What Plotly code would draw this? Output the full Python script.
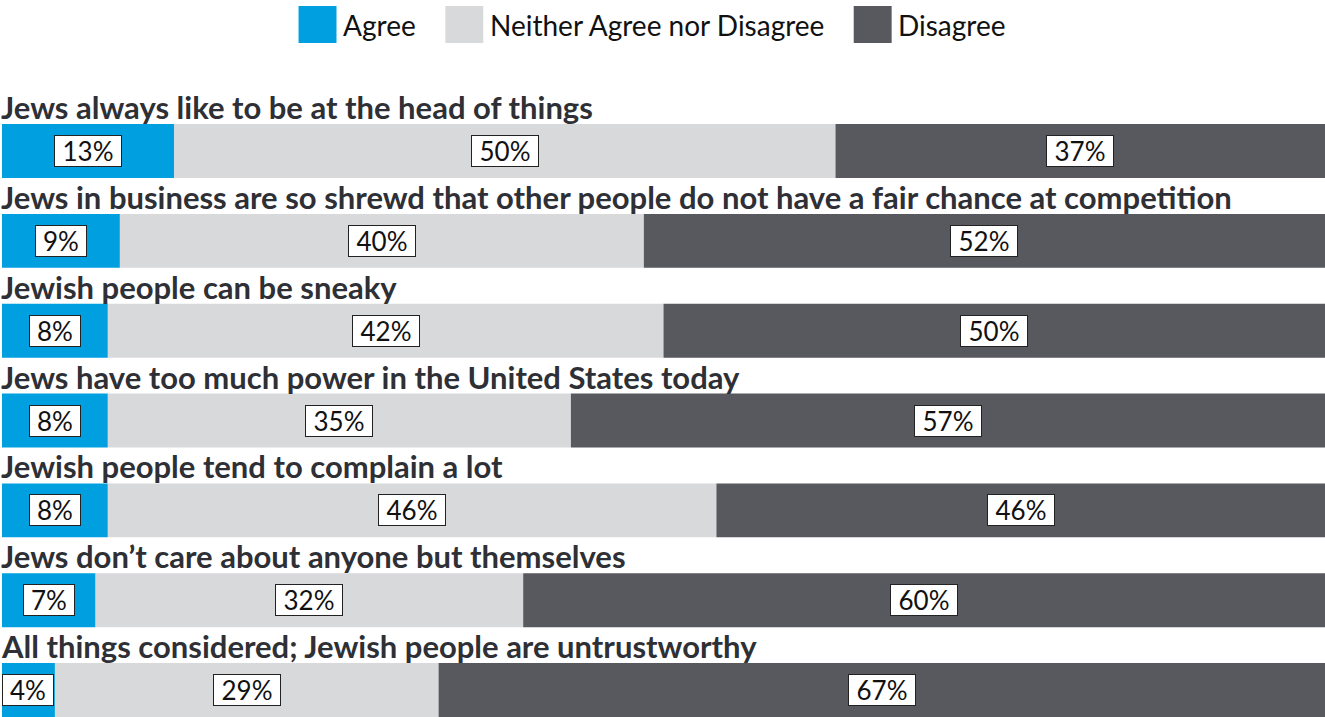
import plotly.graph_objects as go

categories = [
    "Jews always like to be at the head of things",
    "Jews in business are so shrewd that other people do not have a fair chance at competition",
    "Jewish people can be sneaky",
    "Jews have too much power in the United States today",
    "Jewish people tend to complain a lot",
    "Jews don\u2019t care about anyone but themselves",
    "All things considered; Jewish people are untrustworthy",
]
agree = [13, 9, 8, 8, 8, 7, 4]
neither = [50, 40, 42, 35, 46, 32, 29]
disagree = [37, 52, 50, 57, 46, 60, 67]

series = [
    ("Agree", agree, "#009FDF"),
    ("Neither Agree nor Disagree", neither, "#D8D9DB"),
    ("Disagree", disagree, "#58595E"),
]

ypos = list(range(len(categories)))
totals = [a + n + d for a, n, d in zip(agree, neither, disagree)]

fig = go.Figure()
annotations = []
base = [0.0] * len(categories)
for name, vals, color in series:
    widths = [v / t * 100 for v, t in zip(vals, totals)]
    fig.add_trace(go.Bar(
        y=ypos, x=widths, base=base, orientation="h", name=name,
        marker=dict(color=color, line=dict(width=0)), width=0.6,
        showlegend=False, hoverinfo="skip",
    ))
    for i, (w, b, v) in enumerate(zip(widths, base, vals)):
        txt = f"{v}%"
        annotations.append(dict(
            x=b + w / 2, y=i, xref="x", yref="y", text=txt, showarrow=False,
            font=dict(family="Lato", size=26, color="#111"),
            bgcolor="white", bordercolor="#222", borderwidth=1, borderpad=1,
            width=48 if len(txt) <= 2 else (64 if len(txt) == 3 else 50), height=28,
        ))
    base = [b + w for b, w in zip(base, widths)]

for i, c in enumerate(categories):
    annotations.append(dict(
        x=0, y=i - 0.3, xref="paper", yref="y", text=f"<b>{c}</b>", showarrow=False,
        xanchor="left", yanchor="bottom", xshift=-3, yshift=-4,
        font=dict(family="Lato", size=31, color="#2E3036"),
    ))

# legend
legend_items = [
    (297, 340, "Agree", "#009FDF"),
    (444, 487, "Neither Agree nor Disagree", "#D8D9DB"),
    (853, 895, "Disagree", "#58595E"),
]
shapes = []
W, H = 1325, 717
for sx, tx, label, color in legend_items:
    shapes.append(dict(type="rect", xref="paper", yref="paper",
                       x0=sx / W, x1=(sx + 38) / W, y0=1 - 43 / H, y1=1 - 6 / H,
                       fillcolor=color, line=dict(width=0), layer="above"))
    annotations.append(dict(x=tx / W, y=1 - 25 / H, xref="paper", yref="paper",
                            text=label, showarrow=False, xanchor="left", yanchor="middle",
                            font=dict(family="Lato", size=28, color="#111")))

fig.update_layout(
    width=W, height=H,
    margin=dict(l=2, r=0, t=0, b=0),
    paper_bgcolor="white", plot_bgcolor="white",
    barmode="overlay",
    xaxis=dict(range=[0, 100], visible=False, fixedrange=True),
    yaxis=dict(range=[6.3, -1.681], visible=False, fixedrange=True),
    annotations=annotations, shapes=shapes,
    showlegend=False,
)

fig.write_html("out.html", config={"displayModeBar": False})
